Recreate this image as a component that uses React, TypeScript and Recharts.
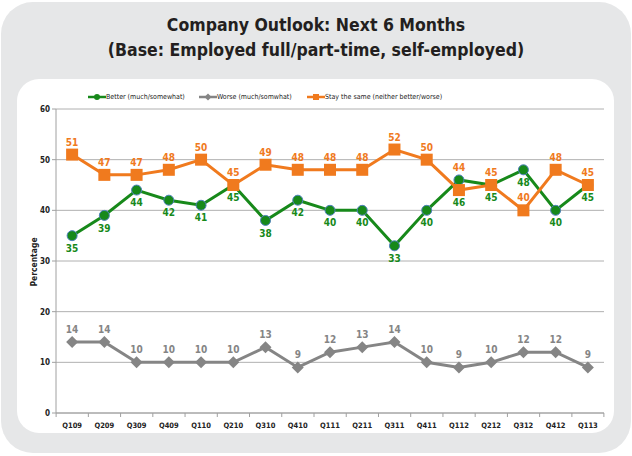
import React from 'react';
import { LineChart, Line, XAxis, YAxis, CartesianGrid, LabelList } from 'recharts';

const quarters = ['Q109','Q209','Q309','Q409','Q110','Q210','Q310','Q410','Q111','Q211','Q311','Q411','Q112','Q212','Q312','Q412','Q113'];
const better = [35,39,44,42,41,45,38,42,40,40,33,40,46,45,48,40,45];
const worse = [14,14,10,10,10,10,13,9,12,13,14,10,9,10,12,12,9];
const same = [51,47,47,48,50,45,49,48,48,48,52,50,44,45,40,48,45];
const yTicks = [0,10,20,30,40,50,60];

const GREEN = '#17891a';
const GRAY = '#858585';
const ORANGE = '#f07a1e';
const FONT = '"DejaVu Sans Condensed", "DejaVu Sans", sans-serif';

// When the green point sits just above the orange one, labels are moved clear of both points
const data = quarters.map((q, i) => {
  const clash = better[i] > same[i] && better[i] - same[i] < 4;
  return {
    q,
    better: better[i],
    worse: worse[i],
    same: same[i],
    sameAnchor: clash ? better[i] : same[i],
    betterAnchor: clash ? same[i] : better[i],
  };
});

const CircleDot = (p: any) => (
  <circle key={p.index} cx={p.cx} cy={p.cy} r={5} fill={GREEN} stroke="#4f81bd" strokeWidth={1} />
);
const SquareDot = (p: any) => (
  <rect key={p.index} x={p.cx - 6} y={p.cy - 6} width={12} height={12} fill={ORANGE} />
);
const DiamondDot = (p: any) => (
  <path key={p.index} d={`M${p.cx},${p.cy - 6}L${p.cx + 6},${p.cy}L${p.cx},${p.cy + 6}L${p.cx - 6},${p.cy}Z`} fill={GRAY} />
);

const XTick = (p: any) => {
  const { x, y, payload } = p;
  return (
    <g>
      <line x1={x - 16} x2={x - 16} y1={y - 8} y2={y - 4} stroke="#a0a0a0" />
      {payload.index === quarters.length - 1 && (
        <line x1={x + 16} x2={x + 16} y1={y - 8} y2={y - 4} stroke="#a0a0a0" />
      )}
      <text x={x} y={y + 7} textAnchor="middle" fontSize={7.5} fontWeight="bold" fill="#222" fontFamily={FONT}>
        {payload.value}
      </text>
    </g>
  );
};

const legendItems = [
  { name: 'Better (much/somewhat)', color: GREEN, shape: 'circle', x: 88 },
  { name: 'Worse (much/somwhat)', color: GRAY, shape: 'diamond', x: 199 },
  { name: 'Stay the same (neither better/worse)', color: ORANGE, shape: 'square', x: 307 },
];

const labelStyle = { fontSize: 10, fontWeight: 'bold', fontFamily: FONT } as const;

export default function App() {
  return (
    <div style={{ position: 'absolute', left: 0, top: 0, width: 632, height: 456, background: '#ffffff', overflow: 'hidden' }}>
      <div style={{ position: 'absolute', left: 1, top: 2, width: 630, height: 451, background: '#e6e7e8', borderRadius: 32 }} />
      <div style={{ position: 'absolute', left: 17, top: 79, width: 597, height: 354, background: '#ffffff', borderRadius: 22 }} />
      <div style={{ position: 'absolute', left: 0, top: 13, width: 632, textAlign: 'center', fontFamily: FONT, fontSize: 17.5, fontWeight: 'bold', lineHeight: '25px', color: '#231f20' }}>
        <div>Company Outlook: Next 6 Months</div>
        <div>(Base: Employed full/part-time, self-employed)</div>
      </div>
      {legendItems.map((it) => (
        <div key={it.name} style={{ position: 'absolute', left: it.x, top: 92, height: 10, display: 'flex', alignItems: 'center', fontFamily: FONT, fontSize: 7, color: '#222', whiteSpace: 'nowrap' }}>
          <svg width={18} height={8}>
            <line x1={0} x2={18} y1={4} y2={4} stroke={it.color} strokeWidth={2.5} />
            {it.shape === 'circle' && <circle cx={9} cy={4} r={3} fill={it.color} />}
            {it.shape === 'square' && <rect x={6} y={1} width={6} height={6} fill={it.color} />}
            {it.shape === 'diamond' && <path d="M9,0.5L12.5,4L9,7.5L5.5,4Z" fill={it.color} />}
          </svg>
          <span>{it.name}</span>
        </div>
      ))}
      <div style={{ position: 'absolute', left: 34, top: 262, transform: 'translate(-50%, -50%) rotate(-90deg)', fontFamily: FONT, fontSize: 8.5, fontWeight: 'bold', color: '#222', whiteSpace: 'nowrap' }}>
        Percentage
      </div>
      <div style={{ position: 'absolute', left: 0, top: 0 }}>
        <LineChart width={632} height={456} data={data} margin={{ top: 109, right: 28, bottom: 23, left: 36 }}>
          <CartesianGrid vertical={false} stroke="#b0b0b0" />
          <XAxis dataKey="q" scale="band" stroke="#a0a0a0" tickLine={false} height={20} tick={<XTick />} interval={0} />
          <YAxis domain={[0, 60]} ticks={yTicks} width={20} stroke="#a0a0a0" tickSize={4}
            tick={{ fontSize: 8, fontWeight: 'bold', fill: '#222', fontFamily: FONT }} />
          <Line dataKey="better" stroke={GREEN} strokeWidth={3} dot={CircleDot} isAnimationActive={false} />
          <Line dataKey="worse" stroke={GRAY} strokeWidth={3} dot={DiamondDot} isAnimationActive={false}>
            <LabelList dataKey="worse" position="top" offset={9} fill={GRAY} {...labelStyle} />
          </Line>
          <Line dataKey="same" stroke={ORANGE} strokeWidth={3} dot={SquareDot} isAnimationActive={false} />
          <Line dataKey="sameAnchor" stroke="none" dot={false} activeDot={false} legendType="none" isAnimationActive={false}>
            <LabelList dataKey="same" position="top" offset={9} fill={ORANGE} {...labelStyle} />
          </Line>
          <Line dataKey="betterAnchor" stroke="none" dot={false} activeDot={false} legendType="none" isAnimationActive={false}>
            <LabelList dataKey="better" position="bottom" offset={9} fill={GREEN} {...labelStyle} />
          </Line>
        </LineChart>
      </div>
    </div>
  );
}
